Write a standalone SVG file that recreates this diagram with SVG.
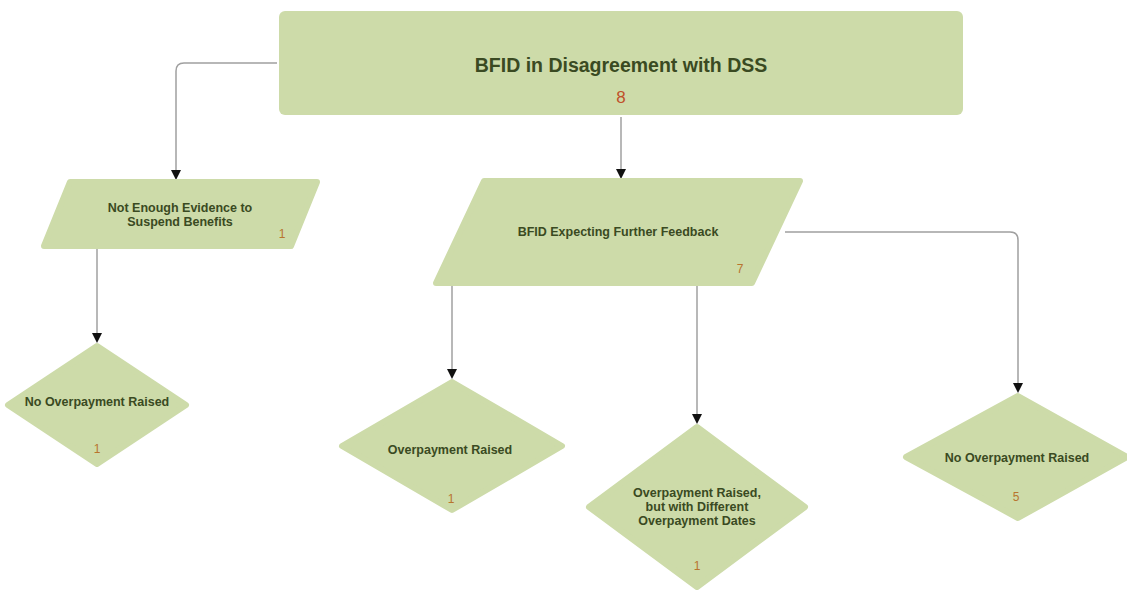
<svg xmlns="http://www.w3.org/2000/svg" width="1127" height="594" viewBox="0 0 1127 594">
<style>
.shape{fill:#cddba9;stroke:#cddba9;stroke-width:6;stroke-linejoin:round}
.lbl{font-family:"Liberation Sans",Arial,sans-serif;font-weight:bold;fill:#3a4a22;text-anchor:middle;font-size:12.5px}
.num{font-family:"Liberation Sans",Arial,sans-serif;fill:#b8742e;text-anchor:middle;font-size:12px}
.conn{fill:none;stroke:#a0a0a0;stroke-width:1.5}
.head{fill:#111}
</style>
<rect width="1127" height="594" fill="#ffffff"/>
<g id="connectors">
<path class="conn" d="M277,63 H184 Q176,63 176,71 V171"/>
<path class="head" d="M171,170 L181,170 L176,180 z"/>
<path class="conn" d="M621,117 V170"/>
<path class="head" d="M616,169 L626,169 L621,179 z"/>
<path class="conn" d="M97,248 V334"/>
<path class="head" d="M92,333 L102,333 L97,343 z"/>
<path class="conn" d="M452,285 V370"/>
<path class="head" d="M447,369 L457,369 L452,379 z"/>
<path class="conn" d="M697,285 V415"/>
<path class="head" d="M692,414 L702,414 L697,424 z"/>
<path class="conn" d="M785,232 H1010 Q1018,232 1018,240 V384"/>
<path class="head" d="M1013,383 L1023,383 L1018,393 z"/>
</g>
<g id="n-root">
<rect x="279" y="11" width="684" height="104" rx="6" fill="#cddba9"/>
<text x="621" y="72" class="lbl" style="font-size:19.5px">BFID in Disagreement with DSS</text>
<text x="621" y="103" class="num" style="font-size:17px;fill:#c0502a">8</text>
</g>
<g id="n-notenough">
<polygon points="70,182 317,182 291,246 44,246" class="shape"/>
<text x="180" y="212" class="lbl">Not Enough Evidence to</text>
<text x="180" y="226" class="lbl">Suspend Benefits</text>
<text x="282" y="238" class="num">1</text>
</g>
<g id="n-expecting">
<polygon points="484,181 800,181 752,283 436,283" class="shape"/>
<text x="618" y="236" class="lbl">BFID Expecting Further Feedback</text>
<text x="740" y="273" class="num">7</text>
</g>
<g id="n-noop1">
<polygon points="97,346 186,405 97,464 8,405" class="shape"/>
<text x="97" y="406" class="lbl">No Overpayment Raised</text>
<text x="97" y="453" class="num">1</text>
</g>
<g id="n-op">
<polygon points="452,382 562,446 452,510 342,446" class="shape"/>
<text x="450" y="454" class="lbl">Overpayment Raised</text>
<text x="451" y="503" class="num">1</text>
</g>
<g id="n-opdiff">
<polygon points="697,427 805,507 697,587 589,507" class="shape"/>
<text x="697" y="497" class="lbl">Overpayment Raised,</text>
<text x="697" y="511" class="lbl">but with Different</text>
<text x="697" y="525" class="lbl">Overpayment Dates</text>
<text x="697" y="570" class="num">1</text>
</g>
<g id="n-noop5">
<polygon points="1018,396 1127,457 1018,518 906,457" class="shape"/>
<text x="1017" y="462" class="lbl">No Overpayment Raised</text>
<text x="1016" y="501" class="num">5</text>
</g>
</svg>
